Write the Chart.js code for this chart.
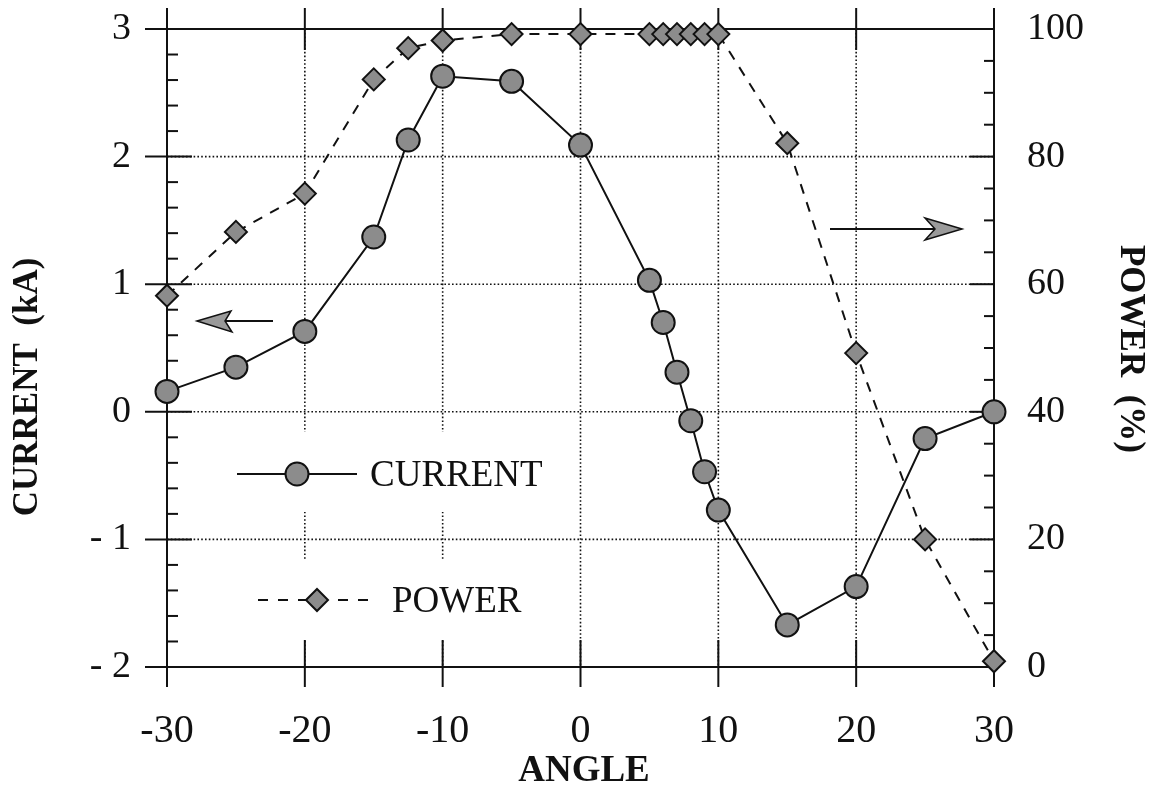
<!DOCTYPE html>
<html>
<head>
<meta charset="utf-8">
<script src="https://cdn.jsdelivr.net/npm/chart.js@4"></script>
<style>
  html, body { margin: 0; padding: 0; background: #fff; }
  #wrap { width: 1162px; height: 792px; }
</style>
</head>
<body>
<div id="wrap"><canvas id="chart" width="1162" height="792"></canvas></div>
<script>
// values
const angles = [-30, -25, -20, -15, -12.5, -10, -5, 0, 5, 6, 7, 8, 9, 10, 15, 20, 25, 30];
const currentKA = [0.16, 0.35, 0.63, 1.37, 2.13, 2.63, 2.59, 2.09, 1.03, 0.70, 0.31, -0.07, -0.47, -0.77, -1.67, -1.37, -0.21, 0.0];
const powerPct = [58.2, 68.2, 74.2, 92.1, 97.0, 98.2, 99.2, 99.2, 99.2, 99.2, 99.2, 99.2, 99.2, 99.2, 82.1, 49.2, 20.0, 0.9];

const angleTicks = [-30, -20, -10, 0, 10, 20, 30];
const currentTicks = [-2, -1, 0, 1, 2, 3];
const powerTicks = [0, 20, 40, 60, 80, 100];

const xTitle = 'ANGLE';
const leftTitle = 'CURRENT  (kA)';
const rightTitle = 'POWER  (%)';
const legendLabels = ['CURRENT', 'POWER'];

const serif = '"Liberation Serif", "Times New Roman", serif';
const markerFill = '#8c8c8c';
const ink = '#111';

function line(ctx, x1, y1, x2, y2) {
    ctx.beginPath();
    ctx.moveTo(x1, y1);
    ctx.lineTo(x2, y2);
    ctx.stroke();
}

function marker(ctx, style, x, y, r) {
    ctx.save();
    ctx.setLineDash([]);
    ctx.fillStyle = markerFill;
    ctx.strokeStyle = ink;
    ctx.lineWidth = 2;
    ctx.beginPath();
    if (style === 'circle') {
        ctx.arc(x, y, r, 0, Math.PI * 2);
    } else {
        ctx.moveTo(x - r, y);
        ctx.lineTo(x, y - r);
        ctx.lineTo(x + r, y);
        ctx.lineTo(x, y + r);
        ctx.closePath();
    }
    ctx.fill();
    ctx.stroke();
    ctx.restore();
}

function arrow(ctx, pts, shaft) {
    ctx.save();
    ctx.setLineDash([]);
    ctx.strokeStyle = ink;
    ctx.lineWidth = 2;
    line(ctx, shaft[0], shaft[1], shaft[2], shaft[3]);
    ctx.fillStyle = '#9a9a9a';
    ctx.beginPath();
    ctx.moveTo(pts[0][0], pts[0][1]);
    for (let i = 1; i < pts.length; i++) ctx.lineTo(pts[i][0], pts[i][1]);
    ctx.closePath();
    ctx.fill();
    ctx.lineWidth = 1.5;
    ctx.stroke();
    ctx.restore();
}

// frame, dotted grid, major and minor ticks
const framePlugin = {
    id: 'frame',
    beforeDatasetsDraw(chart) {
        const ctx = chart.ctx;
        const { left, right, top, bottom } = chart.chartArea;
        const xs = chart.scales.x, yl = chart.scales.y, yr = chart.scales.y1;
        ctx.save();
        ctx.strokeStyle = ink;

        ctx.lineWidth = 1.6;
        ctx.setLineDash([1.6, 2.2]);
        angleTicks.slice(1, -1).forEach(v => {
            const px = xs.getPixelForValue(v);
            line(ctx, px, top, px, bottom);
        });
        currentTicks.slice(1, -1).forEach(v => {
            const py = yl.getPixelForValue(v);
            line(ctx, left, py, right, py);
        });

        // white boxes behind the legend entries
        ctx.setLineDash([]);
        ctx.fillStyle = '#fff';
        ctx.fillRect(200, 432, 360, 80);
        ctx.fillRect(200, 560, 360, 80);

        ctx.lineWidth = 2;
        ctx.strokeRect(left, top, right - left, bottom - top);

        angleTicks.forEach(v => {
            const px = xs.getPixelForValue(v);
            line(ctx, px, bottom - 27, px, bottom + 20);
            line(ctx, px, top - 21, px, top + 21);
        });
        currentTicks.forEach(v => {
            const py = yl.getPixelForValue(v);
            line(ctx, left - 22, py, left + 25, py);
        });
        for (let i = 0; i <= 25; i++) {
            if (i % 5 === 0) continue;
            const py = yl.getPixelForValue(-2 + i * 0.2);
            line(ctx, left, py, left + 11, py);
        }
        powerTicks.forEach(v => {
            const py = yr.getPixelForValue(v);
            line(ctx, right - 24, py, right, py);
        });
        for (let v = 5; v < 100; v += 5) {
            if (v % 20 === 0) continue;
            const py = yr.getPixelForValue(v);
            line(ctx, right - 10, py, right, py);
        }
        ctx.restore();
    },
    afterDatasetsDraw(chart) {
        const ctx = chart.ctx;
        ctx.save();
        ctx.strokeStyle = ink;
        ctx.lineWidth = 2;

        // legend
        line(ctx, 237, 474, 357, 474);
        marker(ctx, 'circle', 297, 474, 11.5);
        ctx.setLineDash([10, 10]);
        line(ctx, 258, 600, 377, 600);
        ctx.setLineDash([]);
        marker(ctx, 'diamond', 317, 600, 11);
        ctx.fillStyle = ink;
        ctx.font = '37px ' + serif;
        ctx.textAlign = 'left';
        ctx.textBaseline = 'middle';
        ctx.fillText(legendLabels[0], 370, 476);
        ctx.fillText(legendLabels[1], 392, 602);

        // arrows pointing at the axes
        arrow(ctx, [[197, 321], [231, 311], [225, 321], [232, 332]], [225, 321, 273, 321]);
        arrow(ctx, [[962, 229], [925, 218], [935, 229], [925, 240]], [830, 229, 935, 229]);

        // axis titles
        ctx.fillStyle = ink;
        ctx.font = 'bold 37px ' + serif;
        ctx.textAlign = 'center';
        ctx.textBaseline = 'middle';
        ctx.fillText(xTitle, 584, 771);

        ctx.font = 'bold 35px ' + serif;
        ctx.save();
        ctx.translate(28, 387);
        ctx.rotate(-Math.PI / 2);
        ctx.fillText(leftTitle, 0, 0);
        ctx.restore();

        ctx.save();
        ctx.translate(1130, 349);
        ctx.rotate(Math.PI / 2);
        ctx.fillText(rightTitle, 0, 0);
        ctx.restore();

        ctx.restore();
    }
};

const chart = new Chart(document.getElementById('chart'), {
    type: 'line',
    data: {
        datasets: [
            {
                label: legendLabels[0],
                data: angles.map((a, i) => ({ x: a, y: currentKA[i] })),
                yAxisID: 'y',
                borderColor: ink,
                borderWidth: 2,
                pointStyle: 'circle',
                pointRadius: 11.5,
                pointBackgroundColor: markerFill,
                pointBorderColor: ink,
                pointBorderWidth: 2,
                tension: 0,
                clip: false,
                order: 1
            },
            {
                label: legendLabels[1],
                data: angles.map((a, i) => ({ x: a, y: powerPct[i] })),
                yAxisID: 'y1',
                borderColor: ink,
                borderWidth: 2,
                borderDash: [10, 9],
                pointStyle: 'rectRot',
                pointRadius: 11,
                pointBackgroundColor: markerFill,
                pointBorderColor: ink,
                pointBorderWidth: 2,
                tension: 0,
                clip: false,
                order: 2
            }
        ]
    },
    options: {
        responsive: false,
        devicePixelRatio: 1,
        animation: false,
        events: [],
        layout: { padding: { top: 29, left: 0, right: 0, bottom: 0 } },
        plugins: {
            legend: { display: false },
            tooltip: { enabled: false }
        },
        scales: {
            x: {
                type: 'linear',
                min: -30,
                max: 30,
                grid: { display: false, drawTicks: false },
                border: { display: false },
                afterBuildTicks: s => { s.ticks = angleTicks.map(v => ({ value: v })); },
                afterFit: s => { s.height = 125; s.paddingLeft = 0; s.paddingRight = 0; },
                ticks: {
                    padding: 40,
                    color: ink,
                    maxRotation: 0,
                    font: { family: serif, size: 40 },
                    callback: v => String(v)
                }
            },
            y: {
                position: 'left',
                min: -2,
                max: 3,
                grid: { display: false, drawTicks: false },
                border: { display: false },
                afterBuildTicks: s => { s.ticks = currentTicks.map(v => ({ value: v })); },
                afterFit: s => { s.width = 167; s.paddingTop = 0; s.paddingBottom = 0; },
                ticks: {
                    padding: 36,
                    color: ink,
                    font: { family: serif, size: 38 },
                    callback: v => (v < 0 ? '- ' + Math.abs(v) : String(v))
                }
            },
            y1: {
                position: 'right',
                min: 0,
                max: 100,
                grid: { display: false, drawTicks: false },
                border: { display: false },
                afterBuildTicks: s => { s.ticks = powerTicks.map(v => ({ value: v })); },
                afterFit: s => { s.width = 168; s.paddingTop = 0; s.paddingBottom = 0; },
                ticks: {
                    padding: 33,
                    color: ink,
                    font: { family: serif, size: 38 },
                    callback: v => String(v)
                }
            }
        }
    },
    plugins: [framePlugin]
});
</script>
</body>
</html>
